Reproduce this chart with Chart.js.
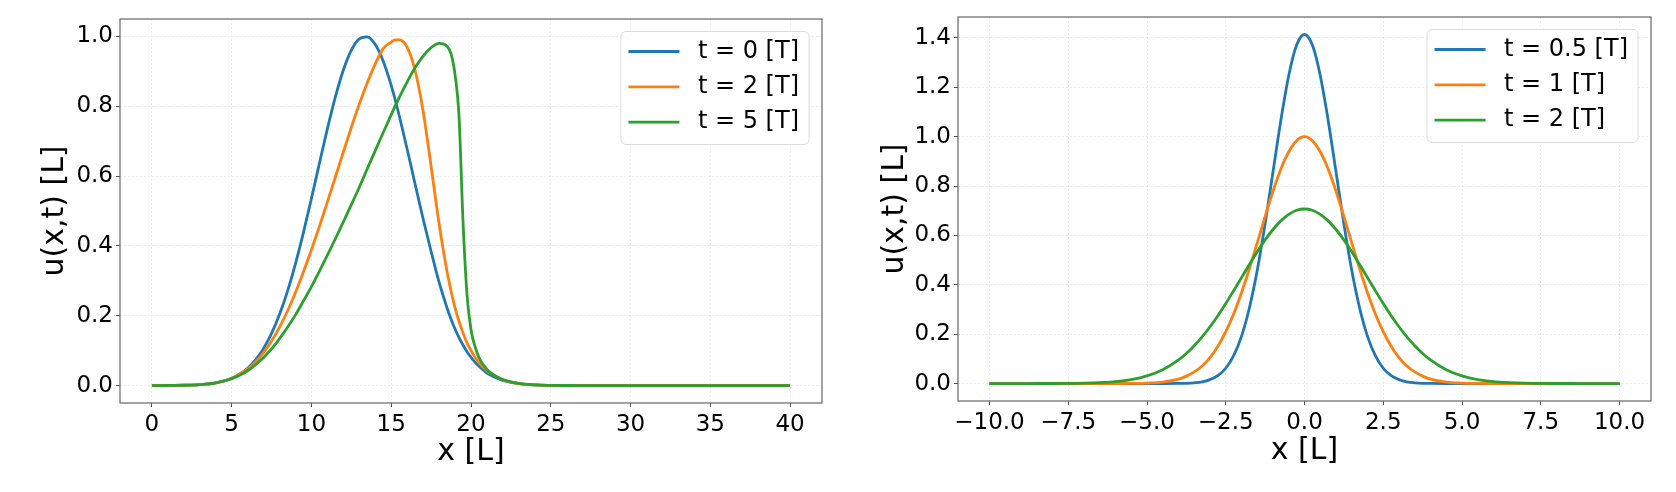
<!DOCTYPE html>
<html>
<head>
<meta charset="utf-8">
<script src="https://cdn.jsdelivr.net/npm/chart.js@4.4.1/dist/chart.umd.min.js"></script>
<style>
  body { margin: 0; background: #fff; }
  #wrap { position: relative; width: 1676px; height: 492px; }
  canvas { position: absolute; top: 0; }
  #left { left: 0; }
  #right { left: 840px; }
</style>
</head>
<body>
<div id="wrap">
  <canvas id="left" width="840" height="492"></canvas>
  <canvas id="right" width="836" height="492"></canvas>
</div>
<script>
// ---- left panel: u(x,t) at t = 0, 2, 5 ----
var xLeft = [0, 1, 2, 3, 4,
  5, 5.5, 6, 6.5, 7, 7.5, 8, 8.5, 9, 9.5, 10, 10.5, 11, 11.5, 12, 12.5, 13, 13.5,
  14, 14.5, 15, 15.25, 15.5, 16, 16.5, 17, 17.5, 18, 18.5,
  18.75, 19, 19.25, 19.5, 19.75, 20, 20.25, 20.5,
  21, 21.5, 22,
  23, 24, 25, 26, 27, 28,
  30, 32, 34, 36, 38, 40];
var uT0 = [0, 0.0002, 0.0008, 0.0026, 0.0078,
  0.0208, 0.0326, 0.0497, 0.0738, 0.1064, 0.1494, 0.2039, 0.2707, 0.3495, 0.4389, 0.5361, 0.6368, 0.7358, 0.8269, 0.9037, 0.9607, 0.9932, 0.9988,
  0.9768, 0.9292, 0.8596, 0.818, 0.7735, 0.677, 0.5762, 0.4771, 0.3841, 0.296, 0.222,
  0.19, 0.162, 0.137, 0.116, 0.097, 0.081, 0.067, 0.055,
  0.036, 0.0235, 0.0148,
  0.0055, 0.0018, 0.0005, 0.0001, 0, 0,
  0, 0, 0, 0, 0, 0];
var uT2 = [0, 0.0002, 0.0008, 0.0025, 0.0076,
  0.0203, 0.0333, 0.047, 0.0673, 0.0941, 0.1275, 0.1674, 0.2136, 0.2664, 0.3257, 0.3891, 0.456, 0.526, 0.5975, 0.6689, 0.7395, 0.8063, 0.8676,
  0.9216, 0.9653, 0.984, 0.990, 0.990, 0.969, 0.9018, 0.7858, 0.6276, 0.4635, 0.3262,
  0.271, 0.2226, 0.1836, 0.1509, 0.1221, 0.1004, 0.0809, 0.0656,
  0.042, 0.0285, 0.016,
  0.0058, 0.0018, 0.0005, 0.0001, 0, 0,
  0, 0, 0, 0, 0, 0];
var uT5 = [0, 0.0002, 0.0008, 0.0025, 0.0074,
  0.0195, 0.0292, 0.0424, 0.0595, 0.0803, 0.1048, 0.1346, 0.1672, 0.2025, 0.2424, 0.2835, 0.3277, 0.3733, 0.4205, 0.4689, 0.5182, 0.5681, 0.621,
  0.673, 0.725, 0.776, 0.801, 0.825, 0.87, 0.911, 0.944, 0.968, 0.98, 0.972,
  0.95, 0.89, 0.77, 0.47, 0.26, 0.16, 0.112, 0.08,
  0.046, 0.028, 0.017,
  0.006, 0.0018, 0.0005, 0.0001, 0, 0,
  0, 0, 0, 0, 0, 0];
var leftXTicks = [0, 5, 10, 15, 20, 25, 30, 35, 40];
var leftYTicks = [0, 0.2, 0.4, 0.6, 0.8, 1.0];
var leftLabels = ['t = 0 [T]', 't = 2 [T]', 't = 5 [T]'];

// ---- right panel: u(x,t) at t = 0.5, 1, 2 ----
var xRight = [-10, -9.5, -9, -8.5, -8, -7.5, -7, -6.5, -6, -5.5, -5, -4.5,
  -4, -3.75, -3.5, -3.25, -3, -2.75, -2.5, -2.25, -2, -1.75, -1.5, -1.25, -1, -0.75, -0.5, -0.25,
  0,
  0.25, 0.5, 0.75, 1, 1.25, 1.5, 1.75, 2, 2.25, 2.5, 2.75, 3, 3.25, 3.5, 3.75, 4,
  4.5, 5, 5.5, 6, 6.5, 7, 7.5, 8, 8.5, 9, 9.5, 10];
var uHalf = [0, 0, 0, 0, 0, 0, 0, 0, 0, 0, 0, 0,
  0.0005, 0.001, 0.003, 0.007, 0.016, 0.032, 0.062, 0.113, 0.191, 0.306, 0.459, 0.647, 0.858, 1.067, 1.248, 1.371,
  1.414,
  1.371, 1.248, 1.067, 0.858, 0.647, 0.459, 0.306, 0.191, 0.113, 0.062, 0.032, 0.016, 0.007, 0.003, 0.001, 0.0005,
  0, 0, 0, 0, 0, 0, 0, 0, 0, 0, 0, 0];
var uOne = [0, 0, 0, 0, 0, 0, 0, 0, 0.0001, 0.0005, 0.002, 0.006,
  0.018, 0.030, 0.047, 0.071, 0.105, 0.151, 0.210, 0.282, 0.368, 0.465, 0.570, 0.677, 0.779, 0.869, 0.939, 0.984,
  1.000,
  0.984, 0.939, 0.869, 0.779, 0.677, 0.570, 0.465, 0.368, 0.282, 0.210, 0.151, 0.105, 0.071, 0.047, 0.030, 0.018,
  0.006, 0.002, 0.0005, 0.0001, 0, 0, 0, 0, 0, 0, 0, 0];
var uTwo = [0, 0, 0, 0.0001, 0.0002, 0.0006, 0.0015, 0.004, 0.008, 0.016, 0.031, 0.056,
  0.096, 0.122, 0.153, 0.189, 0.230, 0.275, 0.324, 0.376, 0.429, 0.482, 0.534, 0.582, 0.624, 0.659, 0.685, 0.702,
  0.707,
  0.702, 0.685, 0.659, 0.624, 0.582, 0.534, 0.482, 0.429, 0.376, 0.324, 0.275, 0.230, 0.189, 0.153, 0.122, 0.096,
  0.056, 0.031, 0.016, 0.008, 0.004, 0.0015, 0.0006, 0.0002, 0.0001, 0, 0, 0];
var rightXTicks = [-10, -7.5, -5, -2.5, 0, 2.5, 5, 7.5, 10];
var rightYTicks = [0, 0.2, 0.4, 0.6, 0.8, 1.0, 1.2, 1.4];
var rightLabels = ['t = 0.5 [T]', 't = 1 [T]', 't = 2 [T]'];

var colors = ['#1f77b4', '#ff7f0e', '#2ca02c'];
var FONT = "'DejaVu Sans', sans-serif";
var TICK_SIZE = 23;
var LEGEND_SIZE = 24;
var TITLE_SIZE = 30;

function pairs(xs, ys) {
    return xs.map(function(x, i) { return {x: x, y: ys[i]}; });
}

function makeDatasets(xs, series, labels) {
    return series.map(function(ys, i) {
        return {
            label: labels[i],
            data: pairs(xs, ys),
            borderColor: colors[i],
            borderWidth: 2.8,
            pointRadius: 0,
            fill: false,
            cubicInterpolationMode: 'monotone',
            // later series on top, as in matplotlib
            order: series.length - 1 - i
        };
    });
}

function minus(v) {
    return v < 0 ? '\u2212' + Math.abs(v).toFixed(1) : v.toFixed(1);
}

// box around the plot area, like the matplotlib spines
var framePlugin = {
    id: 'frame',
    afterDatasetsDraw: function(chart) {
        var a = chart.chartArea, ctx = chart.ctx;
        ctx.save();
        ctx.strokeStyle = '#666';
        ctx.lineWidth = 1.2;
        ctx.strokeRect(a.left, a.top, a.right - a.left, a.bottom - a.top);
        ctx.restore();
    }
};

// legend box in the upper right corner of the plot area
var boxLegend = {
    id: 'boxLegend',
    afterDraw: function(chart) {
        var a = chart.chartArea, ctx = chart.ctx;
        var sets = chart.data.datasets;
        ctx.save();
        ctx.font = LEGEND_SIZE + 'px ' + FONT;
        var textW = 0;
        sets.forEach(function(ds) { textW = Math.max(textW, ctx.measureText(ds.label).width); });
        var w = 77 + textW + 10;
        var h = 113;
        var x0 = a.right - 13 - w;
        var y0 = a.top + 12.5;
        ctx.beginPath();
        ctx.roundRect(x0, y0, w, h, 5);
        ctx.fillStyle = 'rgba(255,255,255,0.85)';
        ctx.fill();
        ctx.strokeStyle = '#dcdcdc';
        ctx.lineWidth = 1;
        ctx.stroke();
        sets.forEach(function(ds, i) {
            var cy = y0 + 20 + i * 35.3;
            ctx.beginPath();
            ctx.moveTo(x0 + 7.5, cy);
            ctx.lineTo(x0 + 58.5, cy);
            ctx.strokeStyle = ds.borderColor;
            ctx.lineWidth = 2.8;
            ctx.stroke();
            ctx.fillStyle = '#000';
            ctx.textBaseline = 'middle';
            ctx.fillText(ds.label, x0 + 77, cy);
        });
        ctx.restore();
    }
};

function axis(opts) {
    return {
        type: 'linear',
        min: opts.min,
        max: opts.max,
        afterBuildTicks: function(scale) {
            scale.ticks = opts.ticks.map(function(v) { return {value: v}; });
        },
        afterFit: function(scale) {
            if (opts.width) scale.width = opts.width;
            if (opts.height) scale.height = opts.height;
        },
        grid: {
            color: 'rgba(0,0,0,0.08)',
            lineWidth: 1,
            drawTicks: true,
            tickLength: 4,
            tickColor: '#555',
            tickWidth: 1
        },
        border: { display: false, dash: [2, 2] },
        ticks: {
            color: '#000',
            font: { family: FONT, size: TICK_SIZE },
            padding: opts.padding,
            maxRotation: 0,
            autoSkip: false,
            callback: opts.format
        },
        title: {
            display: true,
            text: opts.title,
            color: '#000',
            font: { family: FONT, size: TITLE_SIZE, lineHeight: 1 },
            padding: opts.titlePadding
        }
    };
}

function makeChart(id, datasets, xOpts, yOpts, pad) {
    return new Chart(document.getElementById(id), {
        type: 'line',
        data: { datasets: datasets },
        options: {
            responsive: false,
            animation: false,
            events: [],
            devicePixelRatio: 1,
            layout: { padding: pad },
            plugins: { legend: { display: false }, tooltip: { enabled: false } },
            scales: { x: axis(xOpts), y: axis(yOpts) }
        },
        plugins: [framePlugin, boxLegend]
    });
}

makeChart('left', makeDatasets(xLeft, [uT0, uT2, uT5], leftLabels),
    { min: -2, max: 42, ticks: leftXTicks, height: 89, padding: 4, title: 'x [L]',
      titlePadding: { top: 0, bottom: 25 }, format: function(v) { return String(v); } },
    { min: -0.05, max: 1.05, ticks: leftYTicks, width: 120, padding: 3, title: 'u(x,t) [L]',
      titlePadding: { top: 40, bottom: 0 }, format: function(v) { return v.toFixed(1); } },
    { top: 19, right: 18, left: 0, bottom: 0 });

makeChart('right', makeDatasets(xRight, [uHalf, uOne, uTwo], rightLabels),
    { min: -11, max: 11, ticks: rightXTicks, height: 91, padding: 4, title: 'x [L]',
      titlePadding: { top: 0, bottom: 26 }, format: minus },
    { min: -0.0707, max: 1.4849, ticks: rightYTicks, width: 118, padding: 3, title: 'u(x,t) [L]',
      titlePadding: { top: 40, bottom: 0 }, format: function(v) { return v.toFixed(1); } },
    { top: 17, right: 25, left: 0, bottom: 0 });
</script>
</body>
</html>
